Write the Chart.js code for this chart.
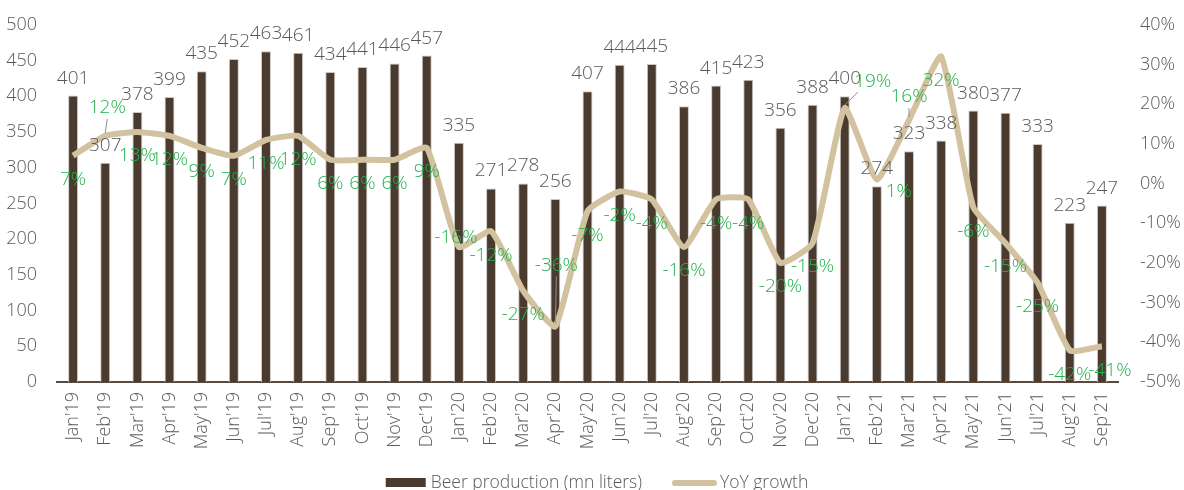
<!DOCTYPE html>
<html>
<head>
<meta charset="utf-8">
<script src="https://cdn.jsdelivr.net/npm/chart.js@4"></script>
<style>
  html, body { margin: 0; padding: 0; background: #fff; }
  #wrap { width: 1184px; height: 490px; }
</style>
</head>
<body>
<div id="wrap"><canvas id="chart"></canvas></div>
<script>
// brown bars + beige growth line
const months = ["Jan'19", "Feb'19", "Mar'19", "Apr'19", "May'19", "Jun'19", "Jul'19", "Aug'19", "Sep'19", "Oct'19", "Nov'19", "Dec'19",
    "Jan'20", "Feb'20", "Mar'20", "Apr'20", "May'20", "Jun'20", "Jul'20", "Aug'20", "Sep'20", "Oct'20", "Nov'20", "Dec'20",
    "Jan'21", "Feb'21", "Mar'21", "Apr'21", "May'21", "Jun'21", "Jul'21", "Aug'21", "Sep'21"];

const production = [401, 307, 378, 399, 435, 452, 463, 461, 434, 441, 446, 457,
    335, 271, 278, 256, 407, 444, 445, 386, 415, 423, 356, 388,
    400, 274, 323, 338, 380, 377, 333, 223, 247];

const yoyGrowth = [7, 12, 13, 12, 9, 7, 11, 12, 6, 6, 6, 9,
    -16, -12, -27, -36, -7, -2, -4, -16, -4, -4, -20, -15,
    19, 1, 16, 32, -6, -15, -25, -42, -41];

const leftTicks = [0, 50, 100, 150, 200, 250, 300, 350, 400, 450, 500];
const rightTicks = [-50, -40, -30, -20, -10, 0, 10, 20, 30, 40];

const barColor = "#4b3b2f";
const lineColor = "#d3c29f";
const greyText = "#595959";
const green = "#22b24c";
const font = "'Open Sans'";

// where the odd growth labels sit (dx, dy from the point), plus leader lines
const labelShift = { 1: [2, -28, true], 12: [-3, -9], 15: [1, -61, true], 24: [28, -27, true], 25: [22, 12], 26: [0, -23, true], 32: [8, 24] };

const labelPlugin = {
    id: "labels",
    afterDatasetsDraw(chart) {
        const ctx = chart.ctx;
        ctx.save();
        ctx.font = "300 19px " + font;
        ctx.textAlign = "center";

        chart.getDatasetMeta(0).data.forEach((bar, i) => {
            ctx.fillStyle = greyText;
            ctx.textBaseline = "alphabetic";
            ctx.fillText(production[i], bar.x, bar.y - 12);
        });

        chart.getDatasetMeta(1).data.forEach((pt, i) => {
            const s = labelShift[i] || [0, 24];
            const tx = pt.x + s[0], ty = pt.y + s[1];
            if (s[2]) {
                ctx.strokeStyle = "#8c8c8c";
                ctx.lineWidth = 1;
                ctx.beginPath();
                ctx.moveTo(pt.x, pt.y - 3);
                ctx.lineTo(tx - (s[0] > 10 ? 15 : 0), ty + 11);
                ctx.stroke();
            }
            ctx.fillStyle = green;
            ctx.textBaseline = "middle";
            ctx.fillText(yoyGrowth[i] + "%", tx, ty);
        });
        ctx.restore();
    }
};

// legend drawn at the bottom edge, like the original
const legendPlugin = {
    id: "bottomLegend",
    afterDraw(chart) {
        const ctx = chart.ctx;
        const names = chart.data.datasets.map(d => d.label);
        ctx.save();
        ctx.font = "300 17.5px " + font;
        const w0 = ctx.measureText(names[0]).width, w1 = ctx.measureText(names[1]).width;
        const total = 40 + 5 + w0 + 30 + 45 + 3 + w1;
        let x = chart.width / 2 + 5 - total / 2;
        const y = 483;
        ctx.fillStyle = barColor;
        ctx.fillRect(x, y - 5, 40, 9);
        x += 45;
        ctx.fillStyle = greyText;
        ctx.textBaseline = "middle";
        ctx.fillText(names[0], x, y);
        x += w0 + 30;
        ctx.strokeStyle = lineColor;
        ctx.lineWidth = 6;
        ctx.lineCap = "round";
        ctx.beginPath();
        ctx.moveTo(x + 3, y);
        ctx.lineTo(x + 42, y);
        ctx.stroke();
        x += 48;
        ctx.fillText(names[1], x, y);
        ctx.restore();
    }
};

new Chart(document.getElementById("chart"), {
    type: "bar",
    data: {
        labels: months,
        datasets: [{
            label: "Beer production (mn liters)",
            data: production,
            backgroundColor: barColor,
            borderColor: "#c8c8c8",
            borderWidth: 1,
            barPercentage: 0.62,
            categoryPercentage: 0.5,
            yAxisID: "y",
            order: 1
        }, {
            type: "line",
            label: "YoY growth",
            data: yoyGrowth,
            borderColor: lineColor,
            backgroundColor: lineColor,
            borderWidth: 6,
            pointRadius: 0,
            tension: 0.15,
            yAxisID: "y1",
            order: 0
        }]
    },
    options: {
        responsive: true,
        maintainAspectRatio: false,
        animation: false,
        layout: { padding: { top: 22, left: 0, right: 0, bottom: 0 } },
        plugins: {
            tooltip: { enabled: false },
            legend: { display: false }
        },
        scales: {
            x: {
                grid: { display: false, drawTicks: false },
                border: { color: "#5a4a3e", width: 2 },
                ticks: {
                    color: greyText,
                    font: { family: font, size: 18, weight: 300 },
                    minRotation: 90,
                    maxRotation: 90,
                    padding: 10,
                    autoSkip: false
                },
                afterFit(scale) { scale.height = 108; }
            },
            y: {
                position: "left",
                min: 0,
                max: 500,
                grid: { display: false },
                border: { display: false },
                afterBuildTicks(scale) { scale.ticks = leftTicks.map(v => ({ value: v })); },
                ticks: {
                    color: greyText,
                    font: { family: font, size: 18, weight: 300 },
                    padding: 12
                },
                afterFit(scale) { scale.width = 57; }
            },
            y1: {
                position: "right",
                min: -50,
                max: 40,
                grid: { display: false },
                border: { display: false },
                afterBuildTicks(scale) { scale.ticks = rightTicks.map(v => ({ value: v })); },
                ticks: {
                    color: greyText,
                    font: { family: font, size: 18, weight: 300 },
                    padding: 14,
                    callback: v => v + "%"
                },
                afterFit(scale) { scale.width = 66; }
            }
        }
    },
    plugins: [labelPlugin, legendPlugin]
});
</script>
</body>
</html>
